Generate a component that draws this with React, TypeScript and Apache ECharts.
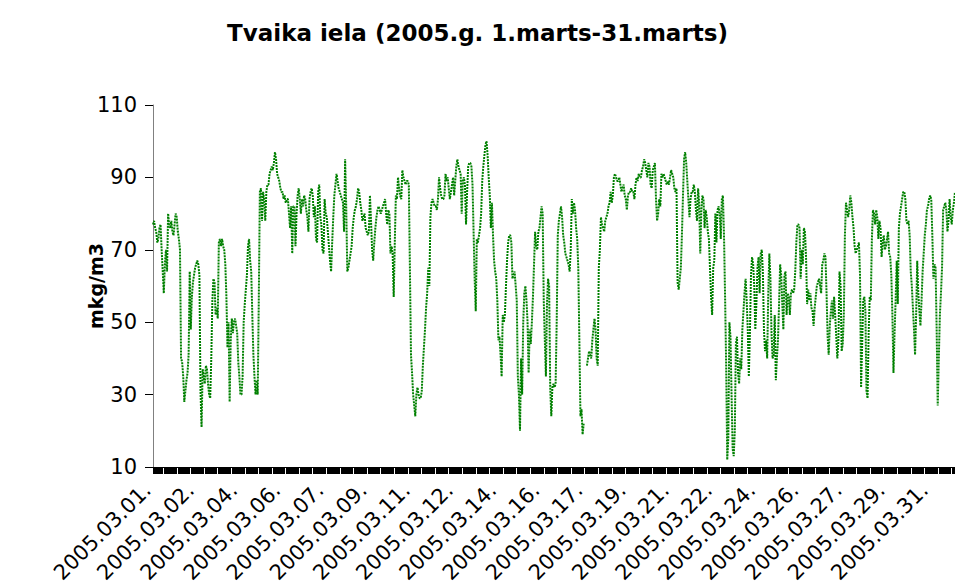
import React, { useEffect, useRef } from "react";
import * as echarts from "echarts";

const TITLE = "Tvaika iela (2005.g. 1.marts-31.marts)";
const Y_NAME = "mkg/m3";
const FONT = "DejaVu Sans";

// days of March 2005, 24 hourly readings each
const days = [
  "01", "02", "03", "04", "05", "06", "07", "08", "09", "10",
  "11", "12", "13", "14", "15", "16", "17", "18", "19", "20",
  "21", "22", "23", "24", "25", "26", "27", "28", "29", "30", "31",
];
const hours = Array.from({ length: 24 }, (_, h) => (h < 10 ? "0" + h : "" + h) + ":00");
const categories: string[] = [];
days.forEach((d) => hours.forEach((h) => categories.push(`2005.03.${d}. ${h}`)));

// hourly concentrations, in order
const seg01 = [
  77, 78, 76, 75, 72, 73, 76, 77, 70, 64,
  58, 66, 70, 64, 80, 77, 76, 78, 75, 74,
  77, 80, 79, 75, 73, 70, 40, 39, 35, 28,
  31, 34, 36, 41, 64, 48, 57, 61, 63, 65,
  66, 67, 66, 63, 31, 21, 37, 35, 33, 38,
  37, 33, 30, 29, 40, 56, 62, 61, 52, 54,
  51, 72, 73, 71,
];
const seg02 = [
  73, 71, 70, 66, 57, 43, 50, 28, 45, 51,
  47, 50, 51, 49, 47, 39, 35, 30, 30, 35,
  50, 55, 59, 63, 71, 73, 67, 64, 52, 41,
  35, 30, 34, 30, 56, 86, 87, 78, 86, 84,
  78, 86, 88, 88, 91, 92, 93, 92, 94, 97,
  95, 91, 90, 89, 87, 86, 86, 84, 85, 83,
  84, 84, 80, 76, 82, 69, 82,
];
const seg03 = [
  82, 71, 80, 85, 87, 84, 80, 84, 82, 85,
  84, 81, 79, 75, 84, 86, 87, 85, 79, 82,
  73, 72, 86, 88, 79, 77, 70, 69, 84, 80,
  79, 75, 71, 67, 64, 72, 79, 85, 88, 91,
  89, 87, 86, 85, 84, 83, 75, 95, 82, 64,
  65, 67, 69, 71, 76, 79, 81, 82, 84, 87,
  86, 83, 81, 78, 79, 80, 76,
];
const seg04 = [
  75, 74, 75, 85, 78, 70, 67, 72, 76, 79,
  81, 82, 81, 80, 81, 82, 83, 84, 80, 77,
  81, 80, 69, 71, 69, 57, 72, 85, 84, 90,
  87, 85, 84, 92, 90, 89, 88, 89, 89, 88,
  65, 41, 36, 30, 27, 24, 30, 32, 30, 29,
  29, 31, 38, 43, 48, 54, 58, 65, 60, 79,
  83, 84, 83, 82, 82, 81,
];
const seg05 = [
  84, 90, 87, 85, 84, 84, 85, 91, 89, 90,
  87, 84, 86, 88, 90, 85, 89, 93, 95, 93,
  92, 91, 80, 89, 90, 88, 77, 86, 93, 94,
  94, 93, 88, 75, 62, 53, 73, 72, 74, 76,
  80, 89, 93, 96, 99, 100, 96, 90, 85, 76,
  83, 74, 67, 64, 62, 56, 45, 46, 41, 35,
  52, 50, 52, 60, 67, 72, 74,
];
const seg06 = [
  74, 72, 62, 63, 64, 60, 56, 35, 30, 20,
  40, 30, 50, 58, 60, 56, 50, 36, 48, 44,
  50, 57, 66, 75, 71, 70, 75, 76, 79, 82,
  80, 56, 45, 35, 55, 62, 60, 32, 24, 32,
  33, 32, 33, 50, 74, 78, 80, 82, 79, 74,
  72, 69, 68, 67, 66, 64, 70, 84, 80, 83,
  81, 76, 73, 65, 45, 24, 26,
];
const seg07 = [
  19, 22, null, null, 38, 40, 42, 41, 40, 45,
  48, 51, 48, 40, 38, 65, 70, 79, 77, 76,
  75, 78, 79, 80, 82, 83, 86, 83, 85, 90,
  91, 90, 89, 89, 90, 88, 86, 87, 88, 85,
  84, 81, 85, 86, 86, 87, 86, 86, 84, 88,
  90, 89, 91, 90, 90, 92, 93, 95, 94, 92,
  90, 94, 93, 88, 87, 92, 93,
];
const seg08 = [
  94, 84, 78, 80, 84, 82, 91, 90, 91, 90,
  89, 88, 89, 88, 90, 92, 91, 90, 87, 86,
  87, 61, 59, 62, 65, 74, 85, 95, 97, 94,
  89, 84, 79, 84, 86, 86, 88, 86, 81, 78,
  87, 83, 69, 81, 85, 84, 76, 81, 79, 75,
  73, 65, 57, 52, 65, 67, 80, 72, 81, 82,
  80, 73, 84, 85, 74, 57, 38,
];
const seg09 = [
  12, 18, 50, 46, 30, 15, 13, 20, 44, 46,
  36, 33, 40, 37, 48, 53, 58, 62, 56, 48,
  35, 47, 63, 68, 66, 60, 48, 55, 65, 68,
  58, 69, 70, 64, 48, 42, 45, 40, 58, 69,
  62, 47, 40, 41, 52, 34, 40, 45, 55, 66,
  63, 55, 48, 63, 64, 52, 58, 57, 52, 58,
  59, 58, 59, 64, 72, 77,
];
const seg10 = [
  77, 76, 62, 70, 66, 76, 75, 68, 55, 59,
  56, 58, 54, 53, 49, 54, 57, 60, 61, 62,
  60, 58, 66, 67, 69, 68, 58, 46, 41, 49,
  53, 56, 51, 57, 52, 46, 40, 45, 64, 60,
  42, 44, 52, 74, 83, 81, 79, 81, 85, 83,
  79, 76, 71, 69, 70, 71, 72, 63, 32, 44,
  56, 57, 53, 31, 29, 47, 57,
];
const seg11 = [
  56, 73, 81, 80, 77, 81, 79, 73, 78, 76,
  68, 72, 74, 70, 71, 73, 75, 69, 68, 63,
  52, 36, 47, 56, 67, 55, 76, 80, 82, 84,
  86, 86, 84, 78, 77, 78, 74, 64, 60, 54,
  48, 41, 52, 67, 58, 53, 49, 56, 64, 69,
  74, 77, 81, 82, 84, 85, 84, 74, 62, 66,
  65, 48, 27, 40, 52, 58, 65, 81, 82, 83,
  81, 75, 78, 84, 79, 77, 81, 83, 86,
];
const values: (number | null)[] = [
  ...seg01, ...seg02, ...seg03, ...seg04, ...seg05, ...seg06,
  ...seg07, ...seg08, ...seg09, ...seg10, ...seg11,
];

const Y_MIN = 10;
const Y_MAX = 110;
const Y_STEP = 20;

export default function App() {
  const ref = useRef<HTMLDivElement>(null);
  useEffect(() => {
    if (!ref.current) return;
    const chart = echarts.init(ref.current, undefined, { renderer: "svg" });
    chart.setOption({
      animation: false,
      backgroundColor: "#ffffff",
      title: {
        text: TITLE,
        left: "center",
        top: 16,
        textStyle: { fontFamily: FONT, fontSize: 23, fontWeight: "bold", color: "#000" },
      },
      grid: { left: 153, right: 0, top: 105, bottom: 119, containLabel: false },
      xAxis: {
        type: "category",
        data: categories,
        boundaryGap: false,
        axisLine: { show: true, lineStyle: { color: "#000", width: 1 } },
        axisTick: { show: true, interval: 0, length: 7, lineStyle: { color: "#000", width: 1 } },
        axisLabel: {
          interval: 39,
          rotate: 45,
          margin: 14,
          padding: [0, 8, 0, 0],
          fontFamily: FONT,
          fontSize: 21,
          color: "#000",
          formatter: (v: string) => v.split(" ")[0],
        },
        splitLine: { show: false },
      },
      yAxis: {
        type: "value",
        min: Y_MIN,
        max: Y_MAX,
        interval: Y_STEP,
        name: Y_NAME,
        nameLocation: "middle",
        nameGap: 48,
        nameMoveOverlap: false,
        nameTextStyle: { fontFamily: FONT, fontSize: 19, fontWeight: "bold", color: "#000" },
        axisLine: { show: true, lineStyle: { color: "#808080", width: 1 } },
        axisTick: { show: true, length: 8, lineStyle: { color: "#000", width: 1 } },
        axisLabel: { fontFamily: FONT, fontSize: 21, color: "#000", margin: 16 },
        splitLine: { show: false },
      },
      series: [
        {
          type: "line",
          data: values,
          symbol: "none",
          showSymbol: false,
          connectNulls: false,
          lineStyle: { color: "#008000", width: 2, type: [2, 1] },
        },
      ],
    });
    return () => chart.dispose();
  }, []);
  return (
    <div
      ref={ref}
      style={{ position: "absolute", left: 0, top: 0, width: 955, height: 586 }}
    />
  );
}
